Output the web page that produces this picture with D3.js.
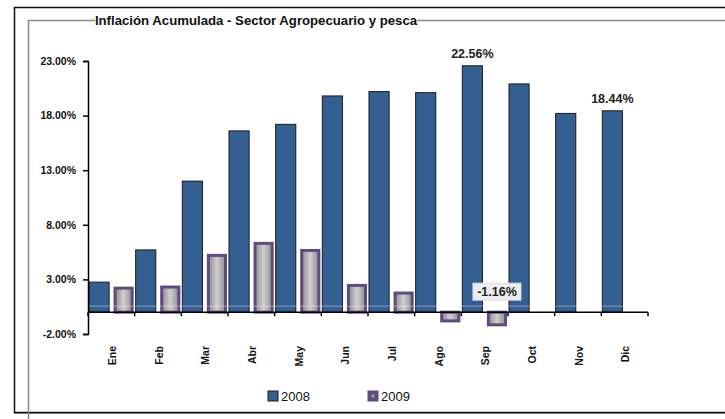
<!DOCTYPE html>
<html>
<head>
<meta charset="utf-8">
<script src="https://cdn.jsdelivr.net/npm/d3@7"></script>
<style>
  body { margin: 0; background: #fff; }
  text { font-family: "Liberation Sans", Arial, sans-serif; }
</style>
</head>
<body>
<div id="chart"></div>
<script>
const width = 725;
const height = 419;

// data
const months = ["Ene", "Feb", "Mar", "Abr", "May", "Jun", "Jul", "Ago", "Sep", "Oct", "Nov", "Dic"];
const years = ["2008", "2009"];
const values2008 = [2.75, 5.7, 12.0, 16.6, 17.2, 19.8, 20.2, 20.1, 22.56, 20.9, 18.2, 18.44];
const values2009 = [2.2, 2.3, 5.2, 6.3, 5.65, 2.45, 1.75, -0.8, -1.16, null, null, null];
const yTicks = [-2, 3, 8, 13, 18, 23];

const svg = d3.select("#chart")
  .append("svg")
  .attr("width", width)
  .attr("height", height);

// plain hyphen instead of unicode minus
const pct = d => d3.format(".2f")(d).replace("\u2212", "-") + "%";

// gradient for the 2009 bars
const defs = svg.append("defs");
const grad = defs.append("linearGradient")
  .attr("id", "gray09")
  .attr("x1", "0%").attr("x2", "100%").attr("y1", "0%").attr("y2", "0%");
grad.append("stop").attr("offset", "0%").attr("stop-color", "#8c8c8c");
grad.append("stop").attr("offset", "50%").attr("stop-color", "#cfcfcf");
grad.append("stop").attr("offset", "100%").attr("stop-color", "#8c8c8c");

// frames
svg.append("path")
  .attr("d", "M725,7.5 H14.5 V412.5 H725")
  .attr("fill", "none").attr("stroke", "#111").attr("stroke-width", 1.5);
svg.append("path")
  .attr("d", "M28.5,419 V20.5 H725")
  .attr("fill", "none").attr("stroke", "#888").attr("stroke-width", 1.5);
svg.append("line")
  .attr("x1", 14).attr("x2", 725).attr("y1", 413.5).attr("y2", 413.5)
  .attr("stroke", "#777").attr("stroke-width", 1);

// scales
const x0 = d3.scaleBand().domain(months).range([88, 648]).paddingInner(0).paddingOuter(0);
const x1 = d3.scaleBand().domain(years).range([0, x0.bandwidth()]).paddingInner(0.18).paddingOuter(0.04);
const y = d3.scaleLinear().domain([-2, 23]).range([334, 61]);

// 2008 bars
svg.append("g")
  .selectAll("rect")
  .data(months.map((m, i) => ({ m, v: values2008[i] })))
  .join("rect")
  .attr("x", d => x0(d.m) + x1("2008"))
  .attr("width", x1.bandwidth())
  .attr("y", d => y(Math.max(0, d.v)))
  .attr("height", d => Math.abs(y(d.v) - y(0)))
  .attr("fill", "#345f92")
  .attr("stroke", "#1a1a1a")
  .attr("stroke-width", 1);

// 2009 bars
svg.append("g")
  .selectAll("rect")
  .data(months.map((m, i) => ({ m, v: values2009[i] })).filter(d => d.v != null))
  .join("rect")
  .attr("x", d => x0(d.m) + x1("2009") + 1.5)
  .attr("width", x1.bandwidth() - 3)
  .attr("y", d => y(Math.max(0, d.v)))
  .attr("height", d => Math.abs(y(d.v) - y(0)))
  .attr("fill", "url(#gray09)")
  .attr("stroke", "#5f4a82")
  .attr("stroke-width", 3);

// faint light line just above zero (only shows over the bars)
svg.append("line")
  .attr("x1", 88).attr("x2", 648)
  .attr("y1", y(0.55)).attr("y2", y(0.55))
  .attr("stroke", "#fff").attr("stroke-width", 1).attr("opacity", 0.4);

// y axis
const yAxis = svg.append("g")
  .attr("transform", "translate(88,0)")
  .call(d3.axisLeft(y).tickValues(yTicks).tickSize(5).tickFormat(pct));
yAxis.select(".domain").attr("stroke", "#000").attr("stroke-width", 1.5);
yAxis.selectAll(".tick line").attr("stroke", "#000").attr("stroke-width", 1.5);
yAxis.selectAll(".tick text")
  .attr("x", -12)
  .style("font-family", "'Liberation Sans', Arial, sans-serif")
  .style("font-size", "10.5px")
  .style("font-weight", "bold")
  .attr("fill", "#111");

// x axis at zero with boundary ticks
const xAxisG = svg.append("g");
xAxisG.append("line")
  .attr("x1", 88).attr("x2", 648)
  .attr("y1", y(0)).attr("y2", y(0))
  .attr("stroke", "#000").attr("stroke-width", 1.5);
xAxisG.selectAll("line.tk")
  .data(months.concat(["end"]))
  .join("line")
  .attr("class", "tk")
  .attr("x1", (d, i) => 88 + i * x0.bandwidth())
  .attr("x2", (d, i) => 88 + i * x0.bandwidth())
  .attr("y1", y(0)).attr("y2", y(0) + 4)
  .attr("stroke", "#000").attr("stroke-width", 1.5);

// month labels, rotated
svg.append("g")
  .selectAll("text")
  .data(months)
  .join("text")
  .attr("transform", d => `translate(${x0(d) + x0.bandwidth() / 2 + 1},346) rotate(-90)`)
  .attr("text-anchor", "end")
  .attr("dy", "0.35em")
  .style("font-size", "10.5px")
  .style("font-weight", "bold")
  .attr("fill", "#111")
  .text(d => d);

// data labels
[8, 11].forEach(i => {
  svg.append("text")
    .attr("x", x0(months[i]) + x1("2008") + x1.bandwidth() / 2)
    .attr("y", y(values2008[i]) - 8)
    .attr("text-anchor", "middle")
    .style("font-size", "12.5px")
    .style("font-weight", "bold")
    .attr("fill", "#222")
    .text(pct(values2008[i]));
});

const sepX = x0("Sep") + x1("2009") + x1.bandwidth() / 2;
svg.append("rect")
  .attr("x", sepX - 24).attr("y", y(0) - 29)
  .attr("width", 48).attr("height", 17)
  .attr("fill", "#ececec").attr("stroke", "#dcdcdc");
svg.append("text")
  .attr("x", sepX)
  .attr("y", y(0) - 16)
  .attr("text-anchor", "middle")
  .style("font-size", "12.5px")
  .style("font-weight", "bold")
  .attr("fill", "#222")
  .text(pct(values2009[8]));

// title with white background over the frame line
const title = "Inflación Acumulada - Sector Agropecuario y pesca";
svg.append("rect")
  .attr("x", 95).attr("y", 12).attr("width", 322).attr("height", 17)
  .attr("fill", "#fff");
svg.append("text")
  .attr("x", 256)
  .attr("y", 25)
  .attr("text-anchor", "middle")
  .style("font-size", "13.2px")
  .style("font-weight", "bold")
  .attr("fill", "#111")
  .text(title);

// legend
const legendColors = { "2008": "#345f92", "2009": "#5f4a82" };
const legendX = { "2008": 268, "2009": 368 };
const legend = svg.append("g");
years.forEach(yr => {
  legend.append("rect")
    .attr("x", legendX[yr]).attr("y", 391)
    .attr("width", 10).attr("height", 10)
    .attr("fill", legendColors[yr])
    .attr("stroke", yr === "2008" ? "#1a1a1a" : "#5f4a82");
  if (yr === "2009") {
    legend.append("rect")
      .attr("x", legendX[yr] + 3.5).attr("y", 394.5)
      .attr("width", 3).attr("height", 3)
      .attr("fill", "#999");
  }
  legend.append("text")
    .attr("x", legendX[yr] + 13)
    .attr("y", 401)
    .style("font-size", "13px")
    .attr("fill", "#111")
    .text(yr);
});
</script>
</body>
</html>
